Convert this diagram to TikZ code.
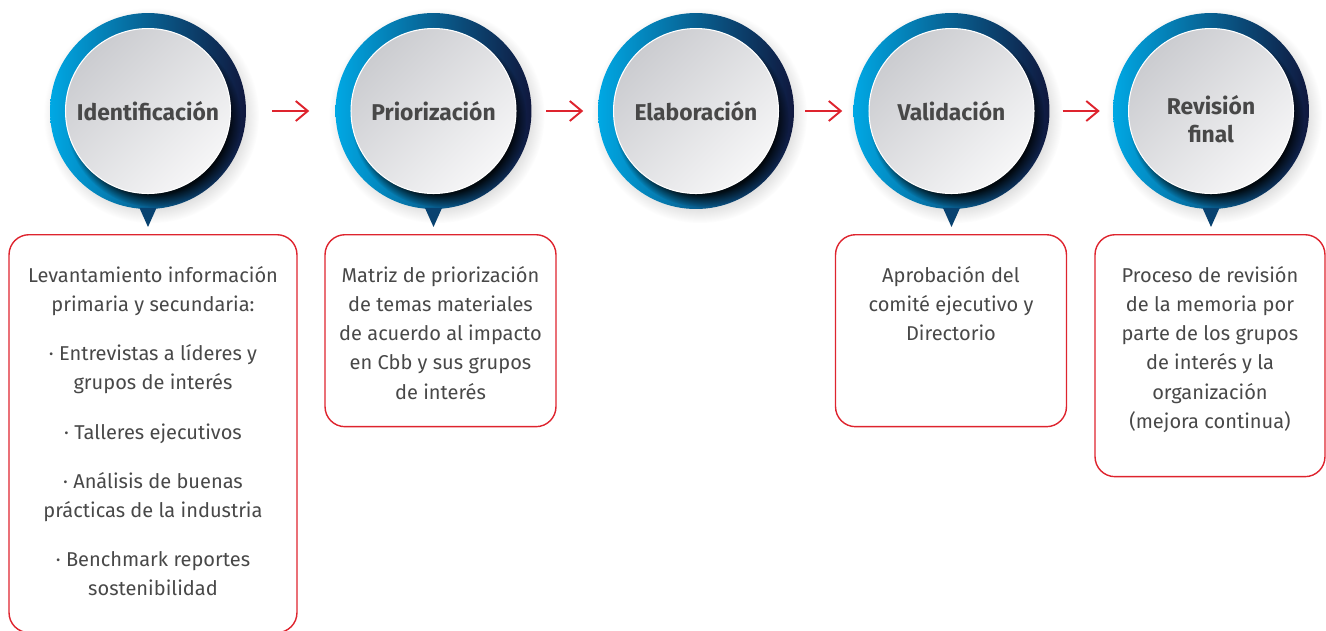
\documentclass[tikz,border=0pt]{standalone}
\usepackage{fontspec}
\setmainfont{Fira Sans}
\usepackage{tikz}
\usetikzlibrary{arrows.meta,calc,shadows,positioning}
\definecolor{ringL}{RGB}{0,168,228}
\definecolor{ringR}{RGB}{16,24,62}
\definecolor{tip}{RGB}{8,66,112}
\definecolor{discD}{RGB}{203,204,208}
\definecolor{discL}{RGB}{246,246,247}
\definecolor{txt}{RGB}{72,72,72}
\definecolor{cbb}{RGB}{222,36,46}

\begin{document}
\begin{tikzpicture}[x=0.02cm,y=-0.02cm,
  ring/.style={circle,inner sep=0,outer sep=0,minimum size=3.92cm,
    left color=ringL,right color=ringR,
    circular drop shadow={shadow xshift=0.06cm,shadow yshift=-0.08cm,opacity=.25}},
  disc/.style={circle,inner sep=0,minimum size=3.3cm,draw=white,line width=0.6pt,
    shading=axis,top color=discD,bottom color=discL,shading angle=45,
    circular drop shadow={shadow scale=1.06,shadow xshift=0.1cm,shadow yshift=-0.16cm,fill=black,opacity=.85},
    align=center,text=txt,font=\fontsize{13}{16}\selectfont\bfseries},
  nxt/.style={cbb,line width=1.1pt,-{Straight Barb[length=0.24cm,width=0.4cm]}},
  box/.style={draw=cbb,line width=0.8pt,rounded corners=0.4cm,anchor=north,inner sep=0},
  body/.style={align=center,text=txt,font=\fontsize{11.4}{16.6}\selectfont,inner sep=0}]
  \useasboundingbox (0,0) rectangle (1326,630);

  % steps
  \foreach \i/\x/\t in {1/148/Identificación,2/433.5/Priorización,3/696/Elaboración,
                        4/951.5/Validación,
                        5/1211/{\raisebox{-0.35cm}[0pt][0pt]{\begin{tabular}{@{}c@{}}Revisión\\final\end{tabular}}}}{
    \node[ring] (r\i) at (\x,111) {};
    \node[disc] (d\i) at (r\i) {\t};
  }
  \foreach \i in {1,2,4,5}
    \fill[tip] ($(r\i.south)+(-8.5,-1)$) -- ($(r\i.south)+(8.5,-1)$) -- ($(r\i.south)+(0,18)$) -- cycle;
  \foreach \a/\b/\s in {1/2/0.525,2/3/0.295,3/4/0.225,4/5/0.265}
    \draw[nxt,shorten <=\s cm,shorten >=\s cm] (r\a) -- (r\b);

  % boxes
  \node[box,minimum width=5.76cm,minimum height=7.96cm] (b1) at (153,234) {};
  \node[box,minimum width=4.62cm,minimum height=3.84cm] (b2) at (440.5,234) {};
  \node[box,minimum width=4.62cm,minimum height=3.84cm] (b4) at (951,234) {};
  \node[box,minimum width=4.6cm,minimum height=4.84cm] (b5) at (1210,234) {};

  \node[body,below=0.64cm of b1.north] (t1) {Levantamiento información\\primaria y secundaria:\\[0.4cm]
    · Entrevistas a líderes y\\grupos de interés\\[0.4cm]
    · Talleres ejecutivos\\[0.4cm]
    · Análisis de buenas\\prácticas de la industria\\[0.4cm]
    · Benchmark reportes\\sostenibilidad};
  \node[body,below=0.64cm of b2.north] (t2) {Matriz de priorización\\de temas materiales\\de acuerdo al impacto\\en Cbb y sus grupos\\de interés};
  \node[body,below=0.64cm of b4.north] (t4) {Aprobación del\\comité ejecutivo y\\Directorio};
  \node[body,below=0.64cm of b5.north] (t5) {Proceso de revisión\\de la memoria por\\parte de los grupos\\de interés y la\\organización\\(mejora continua)};
\end{tikzpicture}
\end{document}
